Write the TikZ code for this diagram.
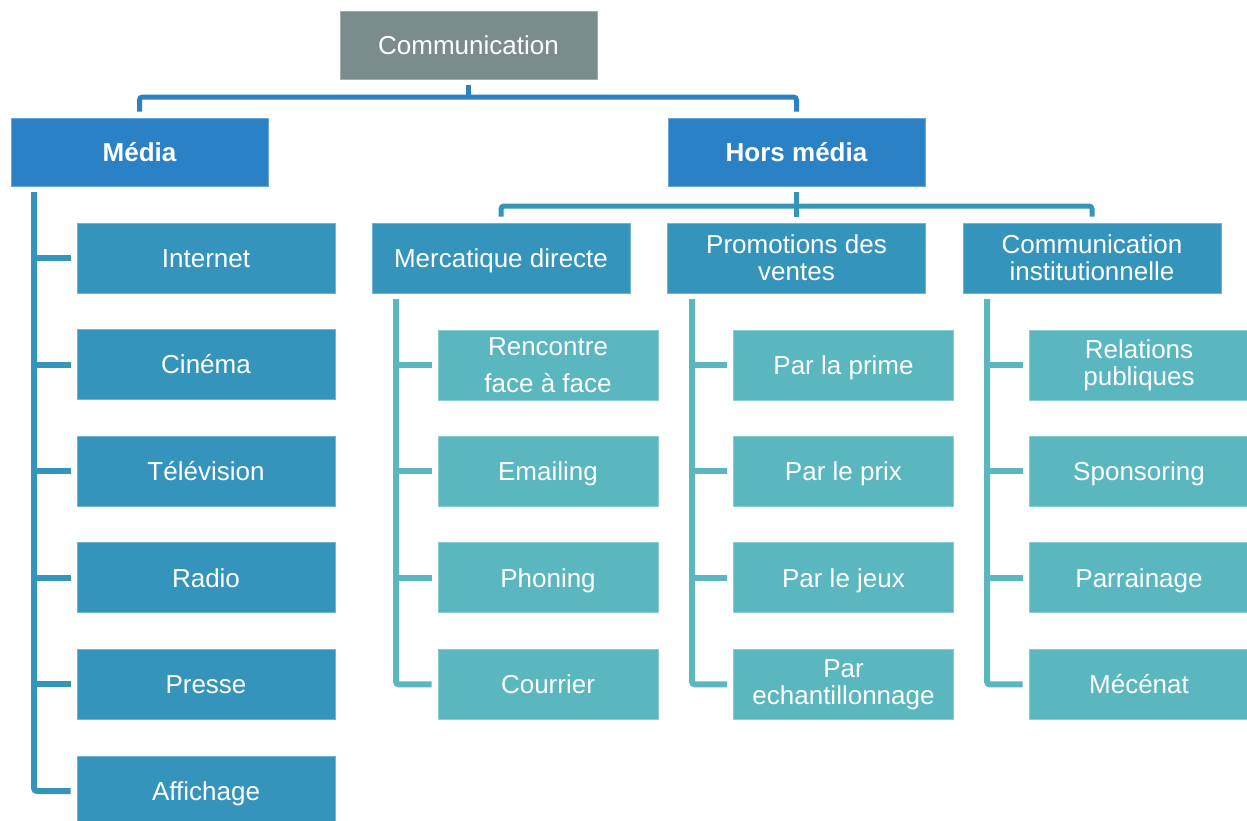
\documentclass[tikz,border=0pt]{standalone}
\usepackage{fontspec}
\setmainfont{Liberation Sans}
\usetikzlibrary{calc}
\definecolor{cgray}{HTML}{7A8C8C}
\definecolor{cblue}{HTML}{2A81C6}
\definecolor{cmid}{HTML}{3594BB}
\definecolor{cteal}{HTML}{5AB6BF}
\begin{document}
\begin{tikzpicture}[x=1pt,y=-1pt,
  box/.style={rectangle, inner sep=0pt, text=white, align=center,
    font=\fontsize{26}{27}\selectfont, line width=0.8pt},
  single/.style={text height=22pt, text depth=3.3pt},
  topbox/.style={box, single, fill=cgray, draw=cgray!70!white, minimum width=257pt, minimum height=68pt},
  lvlone/.style={box, single, fill=cblue, draw=cblue!70!white, minimum width=257pt, minimum height=68pt, font=\fontsize{26}{27}\selectfont\bfseries},
  lvltwo/.style={box, fill=cmid, draw=cmid!70!white, minimum width=258pt, minimum height=70pt},
  leafA/.style={box, single, fill=cmid, draw=cmid!70!white, minimum width=258pt, minimum height=70pt},
  leafB/.style={box, fill=cteal, draw=cteal!70!white, minimum width=220pt, minimum height=70pt},
  busA/.style={draw=cblue, line width=5pt, rounded corners=3pt},
  busB/.style={draw=cmid, line width=5pt, rounded corners=3pt},
  spineA/.style={draw=cmid, line width=6pt, rounded corners=3pt},
  spineB/.style={draw=cteal, line width=6pt, rounded corners=3pt}
]
\useasboundingbox[fill=white] (0,0) rectangle (1247,820);

% top levels
\node[topbox] (comm) at (468.5,45) {Communication};
\node[lvlone] (media) at (139.5,152) {Média};
\node[lvlone] (hors) at (796.5,152) {Hors média};

% media leaves
\node[leafA] (internet) at (206,258) {Internet};
\node[leafA] (cinema) at (206,364.6) {Cinéma};
\node[leafA] (tele) at (206,471.2) {Télévision};
\node[leafA] (radio) at (206,577.8) {Radio};
\node[leafA] (presse) at (206,684.4) {Presse};
\node[leafA] (affichage) at (206,791) {Affichage};

% level two
\node[lvltwo, single] (merc) at (501,258) {Mercatique directe};
\node[lvltwo] (promo) at (796.5,258) {Promotions des\\ventes};
\node[lvltwo] (inst) at (1092,258) {Communication\\institutionnelle};

% mercatique leaves
\node[leafB] (rencontre) at (548,365) {Rencontre\\[10pt]face à face};
\node[leafB, single] (emailing) at (548,471.2) {Emailing};
\node[leafB, single] (phoning) at (548,577.8) {Phoning};
\node[leafB, single] (courrier) at (548,684.4) {Courrier};

% promotions leaves
\node[leafB, single] (prime) at (843.5,365) {Par la prime};
\node[leafB, single] (prix) at (843.5,471.2) {Par le prix};
\node[leafB, single] (jeux) at (843.5,577.8) {Par le jeux};
\node[leafB] (echant) at (843.5,684.4) {Par\\echantillonnage};

% institutionnelle leaves
\node[leafB] (relations) at (1139,365) {\vphantom{Rp}Relations\\publiques};
\node[leafB, single] (sponsoring) at (1139,471.2) {Sponsoring};
\node[leafB, single] (parrainage) at (1139,577.8) {Parrainage};
\node[leafB, single] (mecenat) at (1139,684.4) {Mécénat};

% top bus
\coordinate (b1) at (468.5,97);
\draw[busA] ([yshift=-6pt]comm.south) -- (comm.south |- b1);
\draw[busA] ([yshift=6pt]media.north) |- (b1) -| ([yshift=6pt]hors.north);

% media spine
\coordinate (ms) at (34,192);
\draw[spineA] (ms) |- ([xshift=-6pt]affichage.west);
\foreach \n in {internet,cinema,tele,radio,presse}
  \draw[spineA] ([xshift=-6pt]\n.west) -- (\n.west -| ms);

% second bus
\coordinate (b2) at (796.5,206);
\draw[busB] ([yshift=-6pt]hors.south) -- ([yshift=6pt]promo.north);
\draw[busB] ([yshift=6pt]merc.north) |- (b2) -| ([yshift=6pt]inst.north);

% level three spines
\coordinate (s1) at (396,299);
\coordinate (s2) at (692,299);
\coordinate (s3) at (987,299);
\draw[spineB] (s1) |- ([xshift=-6pt]courrier.west);
\foreach \n in {rencontre,emailing,phoning}
  \draw[spineB] ([xshift=-6pt]\n.west) -- (\n.west -| s1);
\draw[spineB] (s2) |- ([xshift=-6pt]echant.west);
\foreach \n in {prime,prix,jeux}
  \draw[spineB] ([xshift=-6pt]\n.west) -- (\n.west -| s2);
\draw[spineB] (s3) |- ([xshift=-6pt]mecenat.west);
\foreach \n in {relations,sponsoring,parrainage}
  \draw[spineB] ([xshift=-6pt]\n.west) -- (\n.west -| s3);
\end{tikzpicture}
\end{document}
